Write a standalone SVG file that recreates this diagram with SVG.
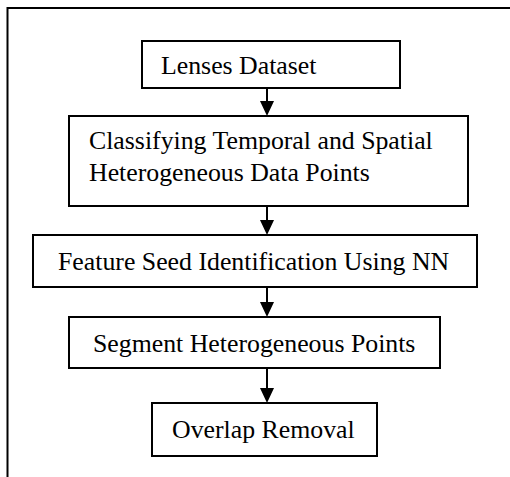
<svg xmlns="http://www.w3.org/2000/svg" width="510" height="477" viewBox="0 0 510 477">
<defs>
<style>
.box{fill:#fff;stroke:#000;stroke-width:2}
.t{font-family:"Liberation Serif","Times New Roman",serif;font-size:25.8px;fill:#000}
.c{stroke:#000;stroke-width:2;fill:none}
.ah{fill:#000}
</style>
</defs>
<rect width="510" height="477" fill="#fff"/>
<path d="M7.5,477 V8 H510" stroke="#000" stroke-width="2" fill="none"/>
<g id="connectors">
<line class="c" x1="267" y1="88" x2="267" y2="102"/>
<polygon class="ah" points="260,101 274,101 267,116"/>
<line class="c" x1="267" y1="206" x2="267" y2="221"/>
<polygon class="ah" points="260,220 274,220 267,235"/>
<line class="c" x1="267" y1="287" x2="267" y2="303"/>
<polygon class="ah" points="260,302 274,302 267,317"/>
<line class="c" x1="267" y1="368" x2="267" y2="389"/>
<polygon class="ah" points="260,388 274,388 267,403"/>
</g>
<g id="n1"><rect class="box" x="142" y="41" width="258" height="47"/><text class="t" x="161" y="74">Lenses Dataset</text></g>
<g id="n2"><rect class="box" x="69" y="116" width="399" height="90"/><text class="t" x="89" y="149">Classifying Temporal and Spatial</text><text class="t" x="89" y="181">Heterogeneous Data Points</text></g>
<g id="n3"><rect class="box" x="33" y="235" width="444" height="52"/><text class="t" x="58" y="270">Feature Seed Identification Using NN</text></g>
<g id="n4"><rect class="box" x="69" y="317" width="371" height="51"/><text class="t" x="93" y="352">Segment Heterogeneous Points</text></g>
<g id="n5"><rect class="box" x="152" y="403" width="225" height="53"/><text class="t" x="172" y="438">Overlap Removal</text></g>
</svg>
